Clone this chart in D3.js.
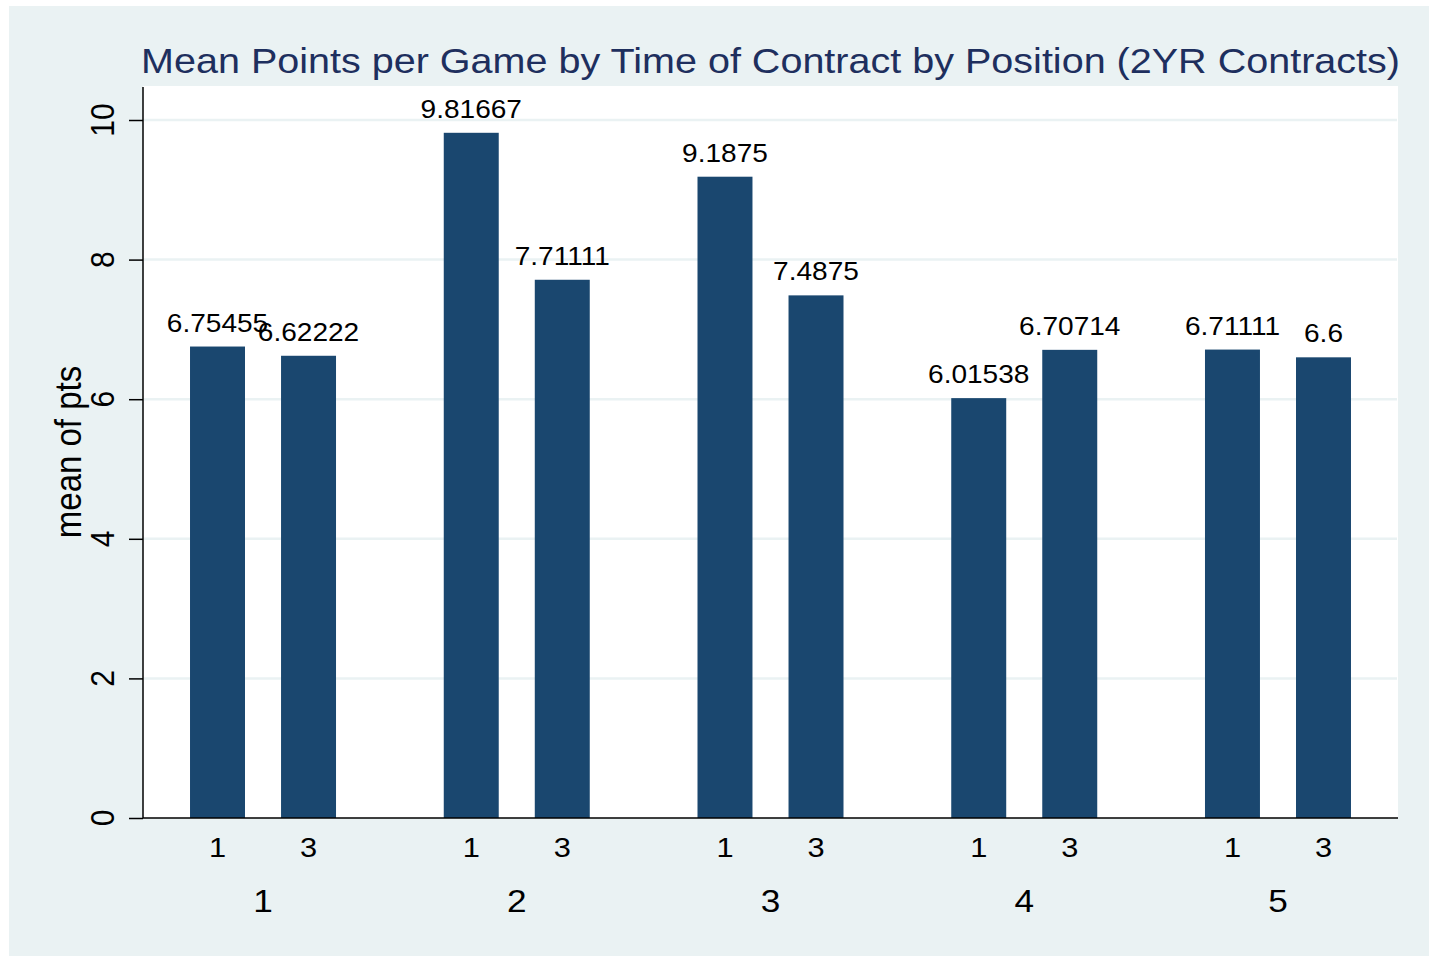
<!DOCTYPE html>
<html>
<head>
<meta charset="utf-8">
<script src="https://cdn.jsdelivr.net/npm/d3@7"></script>
<style>
  body { margin: 0; background: #fff; }
  svg { display: block; font-family: "Liberation Sans", Arial, sans-serif; }
</style>
</head>
<body>
<svg id="chart" width="1429" height="956"></svg>
<script>
// data
const positions = ["1", "2", "3", "4", "5"];
const contractTimes = ["1", "3"];
const meanPts = [
  [6.75455, 6.62222],
  [9.81667, 7.71111],
  [9.1875, 7.4875],
  [6.01538, 6.70714],
  [6.71111, 6.6]
];
const yTicks = [0, 2, 4, 6, 8, 10];

const W = 1429, H = 956;
const plot = { left: 143, right: 1398, top: 86, bottom: 818 };
const navy = "#1a476f";
const sx = 1.1; // glyphs in the original look a bit wide

const svg = d3.select("#chart");

svg.append("rect")
  .attr("x", 9).attr("y", 6)
  .attr("width", W - 9).attr("height", H - 6)
  .attr("fill", "#eaf2f3");

svg.append("rect")
  .attr("x", plot.left).attr("y", plot.top)
  .attr("width", plot.right - plot.left).attr("height", plot.bottom - plot.top)
  .attr("fill", "#fff");

const y = d3.scaleLinear().domain([0, 10]).range([plot.bottom, 120]);

const x0 = d3.scalePoint()
  .domain(positions)
  .range([plot.left, plot.right])
  .padding(0.473);

const x1 = d3.scaleBand()
  .domain(contractTimes)
  .range([-73, 73])
  .paddingInner(0.396);

// gridlines
svg.append("g")
  .selectAll("line")
  .data(yTicks.filter(d => d > 0))
  .join("line")
    .attr("x1", plot.left).attr("x2", plot.right - 1)
    .attr("y1", d => y(d)).attr("y2", d => y(d))
    .attr("stroke", "#eaf2f3")
    .attr("stroke-width", 2.5);

const groups = svg.append("g")
  .selectAll("g")
  .data(positions)
  .join("g")
    .attr("transform", d => `translate(${x0(d)},0)`);

groups.selectAll("rect")
  .data((d, i) => meanPts[i].map((v, j) => ({ key: contractTimes[j], value: v })))
  .join("rect")
    .attr("x", d => x1(d.key))
    .attr("width", x1.bandwidth())
    .attr("y", d => y(d.value))
    .attr("height", d => y(0) - y(d.value))
    .attr("fill", navy);

// value labels
groups.selectAll("text.val")
  .data((d, i) => meanPts[i].map((v, j) => ({ key: contractTimes[j], value: v })))
  .join("text")
    .attr("class", "val")
    .attr("transform", d => `translate(${x1(d.key) + x1.bandwidth() / 2},${y(d.value) - 15}) scale(${sx},1)`)
    .attr("text-anchor", "middle")
    .attr("font-size", 25.5)
    .attr("fill", "#000")
    .text(d => String(d.value));

// inner x labels
groups.selectAll("text.inner")
  .data(contractTimes)
  .join("text")
    .attr("class", "inner")
    .attr("transform", d => `translate(${x1(d) + x1.bandwidth() / 2},857) scale(${sx},1)`)
    .attr("text-anchor", "middle")
    .attr("font-size", 28)
    .text(d => d);

// outer x labels
groups.append("text")
  .attr("transform", `translate(0,912) scale(${sx},1)`)
  .attr("text-anchor", "middle")
  .attr("font-size", 32)
  .text(d => d);

// y axis
const yAxis = svg.append("g")
  .attr("transform", `translate(${plot.left},0)`)
  .call(d3.axisLeft(y).tickValues(yTicks).tickSize(14).tickFormat(""));
yAxis.select(".domain").remove();
yAxis.selectAll(".tick line").attr("stroke", "#000").attr("stroke-width", 1.5);

svg.append("line")
  .attr("x1", plot.left).attr("x2", plot.left)
  .attr("y1", plot.top + 1).attr("y2", plot.bottom)
  .attr("stroke", "#000").attr("stroke-width", 1.5);

svg.append("line")
  .attr("x1", plot.left).attr("x2", plot.right)
  .attr("y1", plot.bottom).attr("y2", plot.bottom)
  .attr("stroke", "#000").attr("stroke-width", 1.5);

svg.append("g")
  .selectAll("text")
  .data(yTicks)
  .join("text")
    .attr("transform", d => `translate(114,${y(d)}) scale(${sx},1) rotate(-90)`)
    .attr("text-anchor", "middle")
    .attr("font-size", 30)
    .text(d => d);

svg.append("text")
  .attr("transform", `translate(81,${(plot.top + plot.bottom) / 2}) scale(${sx},1) rotate(-90)`)
  .attr("text-anchor", "middle")
  .attr("font-size", 33)
  .text("mean of pts");

svg.append("text")
  .attr("transform", `translate(${(plot.left + plot.right) / 2},73) scale(1.13,1)`)
  .attr("text-anchor", "middle")
  .attr("font-size", 35)
  .attr("fill", "#1e2f5e")
  .text("Mean Points per Game by Time of Contract by Position (2YR Contracts)");
</script>
</body>
</html>
